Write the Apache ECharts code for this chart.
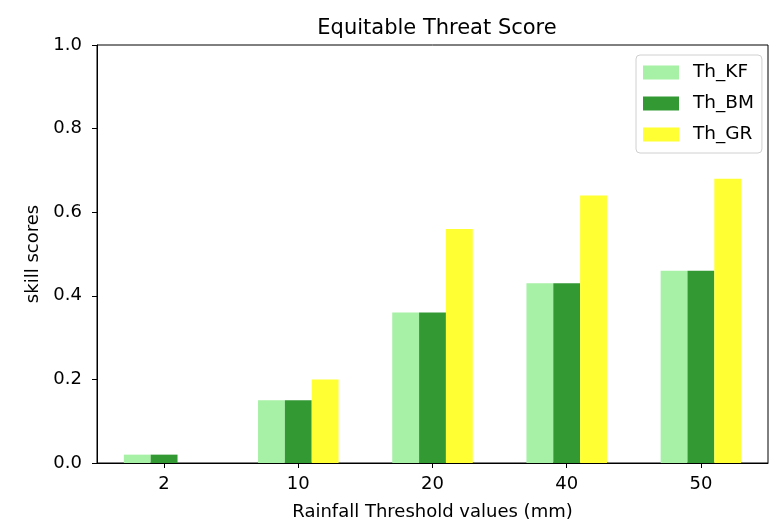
<!DOCTYPE html>
<html>
<head>
<meta charset="utf-8">
<script src="https://cdn.jsdelivr.net/npm/echarts@6/dist/echarts.min.js"></script>
<style>html,body{margin:0;padding:0;background:#fff}#c{width:773px;height:526px}</style>
</head>
<body>
<div id="c"></div>
<script>
var categories = ['2', '10', '20', '40', '50'];
var thKF = [0.02, 0.15, 0.36, 0.43, 0.46];
var thBM = [0.02, 0.15, 0.36, 0.43, 0.46];
var thGR = [0.0, 0.20, 0.56, 0.64, 0.68];
var yTicks = [0, 0.2, 0.4, 0.6, 0.8, 1.0];

var FONT = 'DejaVu Sans';
var chart = echarts.init(document.getElementById('c'), null, {renderer: 'canvas'});
var axisLine = {show: true, lineStyle: {color: '#000', width: 1}};
chart.setOption({
  animation: false,
  backgroundColor: '#fff',
  title: {
    text: 'Equitable Threat Score', left: 432, top: 13, textAlign: 'center',
    textStyle: {fontFamily: FONT, fontSize: 21, fontWeight: 'normal', color: '#000'}
  },
  legend: {
    orient: 'vertical', left: 636, top: 55,
    padding: [8, 8, 9, 7],
    itemWidth: 36, itemHeight: 14, itemGap: 12,
    icon: 'rect',
    borderColor: '#d0d0d0', borderWidth: 1, borderRadius: 4,
    backgroundColor: 'rgba(255,255,255,0.8)',
    textStyle: {fontFamily: FONT, fontSize: 18.5, color: '#000', padding: [0, 0, 0, 9]},
    data: ['Th_KF', 'Th_BM', 'Th_GR']
  },
  grid: {left: 97, right: 5, top: 45, bottom: 62, show: true, borderColor: '#000', borderWidth: 1},
  xAxis: {
    type: 'category', data: categories,
    name: 'Rainfall Threshold values (mm)', nameLocation: 'middle', nameGap: 40,
    nameTextStyle: {fontFamily: FONT, fontSize: 18, color: '#000'},
    axisLine: axisLine,
    axisTick: {show: true, alignWithLabel: true, length: 5, lineStyle: {color: '#000'}},
    axisLabel: {fontFamily: FONT, fontSize: 18, color: '#000', margin: 12},
    splitLine: {show: false}
  },
  yAxis: {
    type: 'value', min: 0, max: 1, interval: 0.2,
    name: 'skill scores', nameLocation: 'middle', nameGap: 47,
    nameTextStyle: {fontFamily: FONT, fontSize: 18, color: '#000'},
    axisLine: axisLine,
    axisTick: {show: true, length: 5, lineStyle: {color: '#000'}},
    axisLabel: {fontFamily: FONT, fontSize: 18, color: '#000', margin: 15,
      formatter: function (v) { return v.toFixed(1); }},
    splitLine: {show: false}
  },
  series: [
    {name: 'Th_KF', type: 'bar', data: thKF, barWidth: '20%', barGap: '0%', itemStyle: {color: '#a6f1a6'}},
    {name: 'Th_BM', type: 'bar', data: thBM, barWidth: '20%', barGap: '0%', itemStyle: {color: '#339933'}},
    {name: 'Th_GR', type: 'bar', data: thGR, barWidth: '20%', barGap: '0%', itemStyle: {color: '#ffff33'}}
  ]
});
</script>
</body>
</html>
